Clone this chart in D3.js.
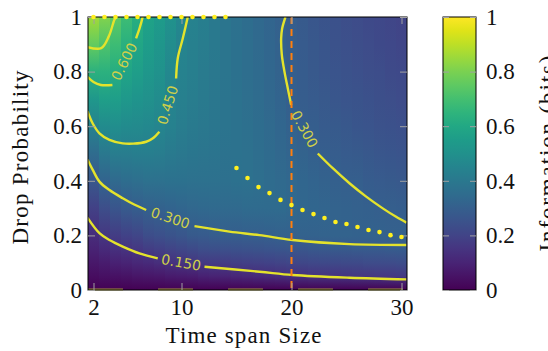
<!DOCTYPE html>
<html><head><meta charset="utf-8">
<script src="https://cdn.jsdelivr.net/npm/d3@7"></script>
<style>html,body{margin:0;padding:0;background:#fff;} svg{display:block;}</style>
</head><body>
<svg id="chart" width="548" height="351"></svg>
<script>
// ---------- data ----------
const timeSpans = [2,3,4,5,6,7,8,9,10,11,12,13,14,15,16,17,18,19,20,21,22,23,24,25,26,27,28,29,30];
const dropProbs = [0,0.05,0.1,0.15,0.2,0.3,0.4,0.5,0.6,0.7,0.8,0.9,1.0];
// information (bits): one row per time span, one value per drop probability
const information = [
 [0,.035,.065,.095,.128,.195,.27,.35,.44,.535,.64,.76,.86],
 [0,.04,.078,.118,.158,.235,.318,.40,.48,.56,.64,.72,.81],
 [0,.045,.09,.137,.178,.262,.34,.42,.49,.555,.62,.685,.75],
 [0,.05,.10,.152,.198,.283,.352,.42,.48,.532,.585,.635,.685],
 [0,.055,.11,.162,.208,.296,.362,.425,.475,.518,.556,.592,.625],
 [0,.06,.12,.178,.232,.307,.368,.424,.467,.50,.528,.553,.577],
 [0,.065,.13,.188,.243,.312,.37,.42,.456,.482,.505,.525,.545],
 [0,.072,.142,.2,.255,.32,.372,.41,.434,.45,.468,.487,.505],
 [0,.077,.15,.212,.268,.328,.372,.402,.42,.43,.44,.452,.465],
 [0,.082,.16,.225,.278,.335,.37,.393,.408,.418,.426,.433,.44],
 [0,.09,.168,.235,.285,.338,.37,.388,.40,.408,.414,.419,.423],
 [0,.095,.174,.24,.29,.34,.368,.383,.392,.398,.402,.404,.406],
 [0,.10,.178,.245,.293,.34,.365,.377,.383,.386,.388,.389,.39],
 [0,.108,.184,.248,.295,.34,.372,.377,.376,.375,.373,.372,.37],
 [0,.112,.188,.252,.298,.345,.369,.368,.365,.362,.359,.356,.354],
 [0,.118,.193,.255,.30,.345,.36,.357,.352,.348,.344,.341,.338],
 [0,.124,.198,.258,.303,.346,.351,.346,.34,.334,.33,.326,.323],
 [0,.13,.203,.262,.305,.344,.342,.335,.327,.32,.315,.311,.307],
 [0,.137,.208,.266,.308,.338,.333,.322,.31,.299,.296,.294,.292],
 [0,.14,.212,.269,.31,.332,.326,.313,.30,.292,.287,.283,.28],
 [0,.145,.216,.272,.312,.326,.317,.303,.293,.283,.277,.272,.268],
 [0,.148,.219,.275,.313,.321,.31,.296,.285,.275,.267,.262,.257],
 [0,.152,.222,.278,.315,.316,.304,.29,.278,.268,.259,.252,.247],
 [0,.155,.224,.28,.314,.31,.30,.284,.271,.26,.251,.244,.238],
 [0,.158,.226,.282,.312,.307,.297,.278,.265,.254,.244,.236,.23],
 [0,.16,.228,.284,.311,.303,.289,.273,.259,.247,.237,.229,.222],
 [0,.162,.229,.285,.309,.30,.285,.268,.253,.241,.231,.222,.215],
 [0,.164,.23,.286,.308,.297,.281,.264,.248,.235,.224,.215,.208],
 [0,.165,.231,.287,.306,.293,.277,.26,.243,.23,.219,.209,.202]
];
// contour lines (time span, drop probability); two pieces around the inline label
const contour075 = [[1.45,0.89],[2.7,0.886],[3.4,0.93],[3.9,0.99],[4.05,1.0]];
const contour060a = [[1.45,0.781],[2.0,0.762],[2.67,0.751],[3.72,0.751]];
const contour060b = [[5.87,0.922],[6.2,0.96],[6.47,1.0]];
const contour045a = [[10.57,1.0],[10.12,0.922],[9.66,0.849],[9.51,0.775]];
const contour045b = [[7.99,0.58],[7.4,0.556],[6.79,0.543],[5.6,0.536],[4.66,0.537],[3.45,0.55],[2.54,0.574],[1.93,0.61],[1.45,0.655]];
const contour030La = [[1.45,0.478],[1.93,0.44],[2.54,0.397],[3.45,0.366],[4.66,0.336],[5.7,0.313],[6.79,0.293]];
const contour030Lb = [[11.18,0.234],[14.36,0.214],[17.09,0.201],[20.1,0.183],[25.27,0.168],[30.45,0.165]];
const contour030Ra = [[19.45,1.0],[19.15,0.958],[19.06,0.922],[19.12,0.861],[19.36,0.8],[19.66,0.739],[19.97,0.678]];
const contour030Rb = [[22.39,0.5],[23.75,0.446],[25.27,0.391],[26.79,0.342],[28.3,0.299],[29.51,0.268],[30.45,0.247]];
const contour015a = [[1.45,0.265],[2.54,0.208],[3.45,0.183],[4.66,0.159],[6.18,0.134],[7.84,0.116]];
const contour015b = [[12.09,0.085],[17.09,0.067],[20.1,0.055],[25.27,0.045],[30.45,0.039]];
const contourLabels = ["0.600","0.450","0.300","0.300","0.150"];
// optimal drop probability per time span (dotted markers)
const optSpans = [2,3,4,5,6,7,8,9,10,11,12,13,14,15,16,17,18,19,20,21,22,23,24,25,26,27,28,29,30];
const optProbs = [1,1,1,1,1,1,1,1,1,1,1,1,1,0.447,0.410,0.377,0.355,0.330,0.311,0.293,0.278,0.264,0.249,0.242,0.231,0.220,0.212,0.201,0.194];
const markedSpan = 20;
const xTicks = [2,10,20,30];
const yTicks = [0,0.2,0.4,0.6,0.8,1];
const cbTicks = [0,0.2,0.4,0.6,0.8,1];
const cbTickLabels = ["0","0.2","0.4","0.6","0.8","1"];
const yTickLabels = ["0","0.2","0.4","0.6","0.8","1"];

// ---------- drawing ----------
const svg = d3.select("#chart");
const P = {l:88, r:407, t:17, b:290};
const CB = {l:443, r:476};
const x = d3.scaleLinear().domain([1.5,30.5]).range([P.l,P.r]);
const y = d3.scaleLinear().domain([0,1]).range([P.b,P.t]);
const color = d3.scaleSequential(d3.interpolateViridis).domain([0,1]);
const serif = "'Liberation Serif','Times New Roman',serif";
const FS = 23;

const defs = svg.append("defs");
defs.append("clipPath").attr("id","plotclip").append("rect")
  .attr("x",P.l).attr("y",P.t).attr("width",P.r-P.l).attr("height",P.b-P.t);

timeSpans.forEach((t,i)=>{
  const g = defs.append("linearGradient").attr("id","col"+i)
    .attr("x1",0).attr("y1",1).attr("x2",0).attr("y2",0);
  dropProbs.forEach((p,j)=>g.append("stop").attr("offset",p).attr("stop-color",color(information[i][j])));
});
const cbg = defs.append("linearGradient").attr("id","cbgrad").attr("x1",0).attr("y1",1).attr("x2",0).attr("y2",0);
d3.range(0,1.0001,0.05).forEach(v=>cbg.append("stop").attr("offset",v).attr("stop-color",color(v)));

const plotG = svg.append("g").attr("clip-path","url(#plotclip)");
plotG.selectAll("rect.cell").data(timeSpans).join("rect").attr("class","cell")
  .attr("x",(t)=>x(t-0.5)).attr("width",(t)=>x(t+0.5)-x(t-0.5)+0.6)
  .attr("y",y(1)).attr("height",y(0)-y(1))
  .attr("fill",(t,i)=>`url(#col${i})`);

// contours
const line = d3.line().x(d=>x(d[0])).y(d=>y(d[1])).curve(d3.curveCatmullRom.alpha(0.5));
const lineColor = "#e4e32c";
const pieces = [contour075,contour060a,contour060b,contour045a,contour045b,contour030La,contour030Lb,contour030Ra,contour030Rb,contour015a,contour015b];
plotG.selectAll("path.contour").data(pieces).join("path").attr("class","contour")
  .attr("d",line).attr("fill","none").attr("stroke",lineColor).attr("stroke-width",2.4);

const labelPairs = [[contour060a,contour060b],[contour045a,contour045b],[contour030La,contour030Lb],[contour030Ra,contour030Rb],[contour015a,contour015b]];
labelPairs.forEach((pr,i)=>{
  const a = pr[0][pr[0].length-1], b = pr[1][0];
  const ax=x(a[0]), ay=y(a[1]), bx=x(b[0]), by=y(b[1]);
  let ang = Math.atan2(by-ay,bx-ax)*180/Math.PI;
  if (ang>90) ang-=180; if (ang<-90) ang+=180;
  svg.append("text").attr("transform",`translate(${(ax+bx)/2},${(ay+by)/2}) rotate(${ang})`)
    .attr("text-anchor","middle").attr("dy","0.35em")
    .attr("font-family","'DejaVu Sans',sans-serif").attr("font-size",14)
    .attr("fill","#cfd04a").text(contourLabels[i]);
});

// marked span (dashed orange)
plotG.append("line").attr("x1",x(markedSpan)).attr("x2",x(markedSpan)).attr("y1",y(1)).attr("y2",y(0))
  .attr("stroke","#ff7f0e").attr("stroke-width",2).attr("stroke-dasharray","7,5");

// bottom yellow dashes
svg.append("line").attr("x1",x(1.5)).attr("x2",x(30.5)).attr("y1",y(0)-0.5).attr("y2",y(0)-0.5)
  .attr("stroke","#b8b23a").attr("stroke-width",2).attr("stroke-dasharray","35,35").attr("opacity",0.8);

// frame
svg.append("rect").attr("x",P.l).attr("y",P.t).attr("width",P.r-P.l).attr("height",P.b-P.t)
  .attr("fill","none").attr("stroke","#000").attr("stroke-width",1);

// ticks (inward, all sides)
function styleAxis(g, showText){
  g.select(".domain").remove();
  g.selectAll(".tick line").attr("stroke","#a0a0a0").attr("stroke-width",1);
  g.selectAll("text").attr("font-family",serif).attr("font-size",FS).attr("fill","#111");
  if(!showText) g.selectAll("text").remove();
}
svg.append("g").attr("transform",`translate(0,${P.b})`)
  .call(d3.axisBottom(x).tickValues(xTicks).tickSize(-7).tickPadding(9).tickFormat(d3.format("d")))
  .call(g=>styleAxis(g,true));
svg.append("g").attr("transform",`translate(0,${P.t})`)
  .call(d3.axisTop(x).tickValues(xTicks).tickSize(-7)).call(g=>styleAxis(g,false));
svg.append("g").attr("transform",`translate(${P.l},0)`)
  .call(d3.axisLeft(y).tickValues(yTicks).tickSize(-7).tickPadding(6).tickFormat((d,i)=>yTickLabels[i]))
  .call(g=>styleAxis(g,true));
svg.append("g").attr("transform",`translate(${P.r},0)`)
  .call(d3.axisRight(y).tickValues(yTicks).tickSize(-7)).call(g=>styleAxis(g,false));

// dots
svg.append("g").selectAll("circle").data(optSpans.map((s,i)=>[s,optProbs[i]])).join("circle")
  .attr("cx",d=>x(d[0])).attr("cy",d=>y(d[1])).attr("r",2.3).attr("fill","#fff01f");

// axis titles
svg.append("text").attr("x",(P.l+P.r)/2-4).attr("y",343).attr("text-anchor","middle")
  .attr("font-family",serif).attr("font-size",FS).attr("fill","#111")
  .attr("textLength",156).attr("lengthAdjust","spacing").text("Time span Size");
svg.append("text").attr("transform",`translate(28,${(P.t+P.b)/2+4}) rotate(-90)`).attr("text-anchor","middle")
  .attr("font-family",serif).attr("font-size",FS).attr("fill","#111")
  .attr("textLength",174).attr("lengthAdjust","spacing").text("Drop Probability");

// colorbar
svg.append("rect").attr("x",CB.l).attr("y",P.t).attr("width",CB.r-CB.l).attr("height",P.b-P.t)
  .attr("fill","url(#cbgrad)").attr("stroke","#000").attr("stroke-width",1);
svg.append("g").attr("transform",`translate(${CB.r},0)`)
  .call(d3.axisRight(y).tickValues(cbTicks).tickSize(-6).tickPadding(10).tickFormat((d,i)=>cbTickLabels[i]))
  .call(g=>styleAxis(g,true));
svg.append("g").attr("transform",`translate(${CB.l},0)`)
  .call(d3.axisLeft(y).tickValues(cbTicks).tickSize(-6)).call(g=>styleAxis(g,false));
svg.append("text").attr("transform",`translate(555,${(P.t+P.b)/2}) rotate(-90)`).attr("text-anchor","middle")
  .attr("font-family",serif).attr("font-size",FS).attr("fill","#111")
  .attr("textLength",196).attr("lengthAdjust","spacing").text("Information (bits)");
</script>
</body></html>
